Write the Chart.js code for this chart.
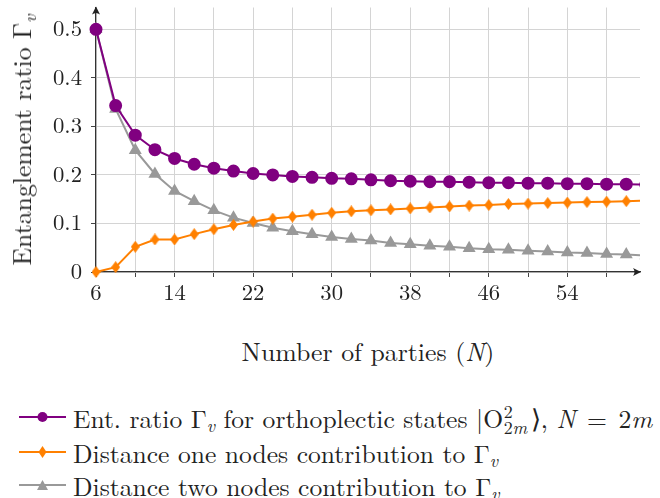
<!DOCTYPE html>
<html>
<head>
<meta charset="utf-8">
<script src="https://cdn.jsdelivr.net/npm/chart.js@4.4.1/dist/chart.umd.min.js"></script>
<style>
  body { margin: 0; width: 660px; height: 498px; background: #fff; position: relative; overflow: hidden; color: #222; }
  #wrap { position: absolute; left: 0; top: 0; width: 660px; height: 300px; }
  .ytitle { position: absolute; left: 20px; top: 140px; transform: translate(-50%, -50%) rotate(-90deg); white-space: nowrap; }
  .xtitle { position: absolute; left: 368px; top: 350px; transform: translate(-50%, -50%); white-space: nowrap; }
  #legend { position: absolute; left: 19px; top: 400px; }
  .row { position: absolute; left: 0; height: 34px; display: flex; align-items: center; white-space: nowrap; }
  .row svg { margin-right: 7px; flex: none; }
  .ss { display: inline-block; position: relative; font-size: 0.7em; line-height: 1; margin: 0 0.2em 0 0.03em; }
  .ss .a { position: absolute; left: 0; top: -0.55em; }
  .ss .b { position: relative; top: 0.35em; }
  .eq { margin: 0 0.12em; }
  sub { font-size: 0.7em; vertical-align: -0.25em; line-height: 0; }
</style>
</head>
<body>
<div id="wrap"><canvas id="chart" width="660" height="300"></canvas></div>
<div class="ytitle" id="ytitle">Entanglement ratio Γ<sub><i>v</i></sub></div>
<div class="xtitle" id="xtitle">Number of parties (<i>N</i>)</div>
<div id="legend">
  <div class="row" style="top:0px">
    <svg width="47" height="14"><line x1="0" y1="7" x2="47" y2="7" stroke="#800080" stroke-width="2"/><circle cx="23.5" cy="7" r="5" fill="#800080"/></svg>
    <span>Ent. ratio Γ<sub><i>v</i></sub> for orthoplectic states |O<span class="ss"><span class="a">2</span><span class="b">2<i>m</i></span></span>⟩, <i>N</i> <span class="eq">=</span> 2<i>m</i></span>
  </div>
  <div class="row" style="top:35px">
    <svg width="47" height="14"><line x1="0" y1="7" x2="47" y2="7" stroke="#ff8000" stroke-width="2"/><polygon points="23.5,1 27.5,7 23.5,13 19.5,7" fill="#ff8000"/></svg>
    <span>Distance one nodes contribution to Γ<sub><i>v</i></sub></span>
  </div>
  <div class="row" style="top:68px">
    <svg width="47" height="14"><line x1="0" y1="7" x2="47" y2="7" stroke="#999" stroke-width="2"/><polygon points="23.5,2 29,12 18,12" fill="#999"/></svg>
    <span>Distance two nodes contribution to Γ<sub><i>v</i></sub></span>
  </div>
</div>
<script>
// chart data
const parties = [6, 8, 10, 12, 14, 16, 18, 20, 22, 24, 26, 28, 30, 32, 34,
  36, 38, 40, 42, 44, 46, 48, 50, 52, 54, 56, 58, 60, 62];
const entRatio = [0.500, 0.343, 0.282, 0.252, 0.234, 0.222, 0.214, 0.208, 0.203, 0.200,
  0.197, 0.195, 0.193, 0.192, 0.190, 0.188, 0.187, 0.186, 0.186, 0.185, 0.184, 0.184,
  0.183, 0.183, 0.182, 0.182, 0.181, 0.181, 0.180];
const distOne = [0.000, 0.010, 0.052, 0.067, 0.067, 0.078, 0.088, 0.097, 0.104, 0.110,
  0.114, 0.118, 0.122, 0.125, 0.127, 0.129, 0.131, 0.133, 0.135, 0.137, 0.138, 0.140,
  0.141, 0.142, 0.143, 0.144, 0.145, 0.146, 0.147];
const distTwo = [0.500, 0.336, 0.251, 0.202, 0.167, 0.146, 0.127, 0.112, 0.101, 0.091,
  0.084, 0.078, 0.072, 0.068, 0.065, 0.060, 0.057, 0.054, 0.052, 0.049, 0.047, 0.046,
  0.044, 0.042, 0.040, 0.039, 0.037, 0.036, 0.034];
const xTicks = [6, 10, 14, 18, 22, 26, 30, 34, 38, 42, 46, 50, 54, 58];
const xLabels = [6, 14, 22, 30, 38, 46, 54];
const yTicks = [0, 0.1, 0.2, 0.3, 0.4, 0.5];

const toPoints = (ys) => parties.map((n, i) => ({ x: n, y: ys[i] }));

// pick an installed serif font (falls back to whatever exists)
const measureCtx = document.createElement("canvas").getContext("2d");
function hasFont(fam) {
  const s = "mmmmmmmmmmlli0.5WgDistance";
  for (const base of ["monospace", "sans-serif"]) {
    measureCtx.font = "72px " + base;
    const a = measureCtx.measureText(s).width;
    measureCtx.font = `72px "${fam}", ${base}`;
    if (measureCtx.measureText(s).width !== a) return true;
  }
  return false;
}
const serif = ["Latin Modern Roman", "CMU Serif", "Liberation Serif", "DejaVu Serif", "Noto Serif", "Tinos"]
  .find(hasFont) || "serif";
const family = `"${serif}", serif`;
document.body.style.fontFamily = family;

// font size so that a string has the width it has in the figure
function fitSize(text, width) {
  measureCtx.font = `100px ${family}`;
  return (100 * width) / measureCtx.measureText(text).width;
}
const tickSize = fitSize("0.5", 29);
const titleSize = fitSize("Number of parties (N)", 253);
const legendSize = fitSize("Distance one nodes contribution to Γ", 417);
document.getElementById("xtitle").style.fontSize = titleSize + "px";
document.getElementById("ytitle").style.fontSize = titleSize + "px";
document.getElementById("legend").style.fontSize = legendSize + "px";

// tall diamond marker for the orange series
function diamond(w, h, color) {
  const c = document.createElement("canvas");
  c.width = w; c.height = h;
  const g = c.getContext("2d");
  g.fillStyle = color;
  g.beginPath();
  g.moveTo(w / 2, 0); g.lineTo(w, h / 2); g.lineTo(w / 2, h); g.lineTo(0, h / 2);
  g.closePath(); g.fill();
  return c;
}

// arrow heads on the axes
const axisArrows = {
  id: "axisArrows",
  afterDraw(chart) {
    const { ctx, chartArea } = chart;
    ctx.save();
    ctx.fillStyle = "#222";
    ctx.beginPath();
    ctx.moveTo(chartArea.right + 1, chartArea.bottom);
    ctx.lineTo(chartArea.right - 7, chartArea.bottom - 4);
    ctx.quadraticCurveTo(chartArea.right - 4, chartArea.bottom, chartArea.right - 7, chartArea.bottom + 4);
    ctx.closePath();
    ctx.fill();
    ctx.beginPath();
    ctx.moveTo(chartArea.left, chartArea.top - 1);
    ctx.lineTo(chartArea.left - 4, chartArea.top + 7);
    ctx.quadraticCurveTo(chartArea.left, chartArea.top + 4, chartArea.left + 4, chartArea.top + 7);
    ctx.closePath();
    ctx.fill();
    ctx.restore();
  },
};

const tickFont = { family: family, size: tickSize };
const clipBox = { left: 10, top: 10, right: 0, bottom: 10 };

new Chart(document.getElementById("chart"), {
  type: "line",
  data: {
    datasets: [
      {
        label: "Ent. ratio",
        data: toPoints(entRatio),
        borderColor: "#800080",
        backgroundColor: "#800080",
        borderWidth: 2,
        pointStyle: "circle",
        pointRadius: 5.5,
        clip: clipBox,
      },
      {
        label: "Distance one",
        data: toPoints(distOne),
        borderColor: "#ff8000",
        backgroundColor: "#ff8000",
        borderWidth: 2,
        pointStyle: diamond(9, 12, "#ff8000"),
        clip: clipBox,
      },
      {
        label: "Distance two",
        data: toPoints(distTwo),
        borderColor: "#999999",
        backgroundColor: "#999999",
        borderWidth: 2,
        pointStyle: "triangle",
        pointRadius: 5.5,
        clip: clipBox,
      },
    ],
  },
  options: {
    responsive: false,
    animation: false,
    layout: { padding: { top: 5, right: 20, left: 0, bottom: 0 } },
    plugins: { legend: { display: false }, tooltip: { enabled: false } },
    scales: {
      x: {
        type: "linear",
        min: 6,
        max: 61.4,
        afterBuildTicks: (s) => { s.ticks = xTicks.map((v) => ({ value: v })); },
        afterFit: (s) => { s.height = 28; s.paddingLeft = 0; s.paddingRight = 0; },
        ticks: {
          font: tickFont,
          color: "#222",
          padding: 2,
          maxRotation: 0,
          autoSkip: false,
          callback: (v) => (xLabels.includes(v) ? String(v) : ""),
        },
        grid: { color: "#d4d4d4", lineWidth: 1, tickColor: "#444", tickLength: 5 },
        border: { color: "#333", width: 1.2 },
      },
      y: {
        min: 0,
        max: 0.545,
        afterBuildTicks: (s) => { s.ticks = yTicks.map((v) => ({ value: v })); },
        afterFit: (s) => { s.width = 96; s.paddingTop = 0; s.paddingBottom = 0; },
        ticks: {
          font: tickFont,
          color: "#222",
          padding: 9,
          callback: (v) => (v === 0 ? "0" : v.toFixed(1)),
        },
        grid: { color: "#d4d4d4", lineWidth: 1, tickColor: "#444", tickLength: 5 },
        border: { color: "#333", width: 1.2 },
      },
    },
  },
  plugins: [axisArrows],
});
</script>
</body>
</html>
